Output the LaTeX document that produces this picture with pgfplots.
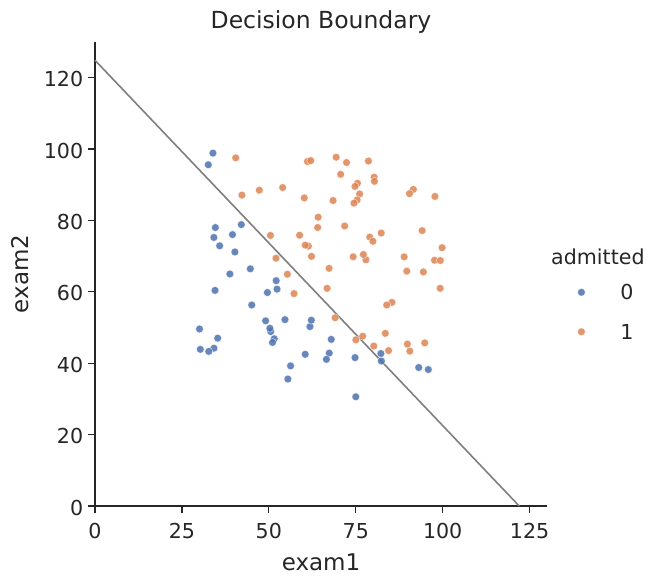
\documentclass[border=0pt]{standalone}
\usepackage{pgfplots}
\pgfplotsset{compat=1.18}
\usepackage{fontspec}
\setmainfont{DejaVu Sans}
\definecolor{dblue}{HTML}{4C72B0}
\definecolor{dorange}{HTML}{DD8452}
\definecolor{txt}{HTML}{262626}
\definecolor{lgray}{HTML}{7F7F7F}
\begin{document}
\begin{tikzpicture}
\useasboundingbox (-95bp,-75bp) rectangle (564bp,506bp);
\begin{axis}[
  at={(0,0)}, anchor=south west,
  scale only axis, width=452bp, height=464bp,
  xmin=0, xmax=130, ymin=0, ymax=130,
  axis lines=left, axis line style={-, draw=txt, line width=1.25bp},
  tick align=outside, major tick length=7bp,
  tick style={draw=txt, line width=1.25bp},
  xtick={0,25,...,125}, ytick={0,20,...,120},
  minor tick num=0,
  /pgf/number format/assume math mode=true,
  tick label style={font=\fontsize{20.6bp}{24bp}\selectfont, text=txt, inner sep=0pt},
  xticklabel style={anchor=base, yshift=-25bp},
  yticklabel style={anchor=east, xshift=-4.6bp, yshift=-1.5bp},
  xlabel={exam1}, ylabel={exam2},
  label style={font=\fontsize{23bp}{27bp}\selectfont, text=txt, inner sep=0pt},
  xlabel style={at={(axis description cs:0.5,-0.138)}, anchor=base},
  ylabel style={at={(axis description cs:-0.148,0.5)}, anchor=base},
  title={Decision Boundary},
  title style={font=\fontsize{23.5bp}{28bp}\selectfont, text=txt, inner sep=0pt,
    at={(axis description cs:0.5,1.0172)}, anchor=base},
  legend style={draw=none, fill=none, at={(axis description cs:1.0675,0.4774)},
    anchor=north west, inner sep=0pt, outer sep=0pt,
    font=\fontsize{20.6bp}{24bp}\selectfont, text=txt,
    column sep=0pt, row sep=23bp,
    nodes={inner sep=0pt, anchor=base west}},
  legend cell align=left,
  legend image code/.code={%
    \path[draw=none] (0bp,0bp) -- (39bp,0bp);
    \draw[#1] plot coordinates {(0bp,7.5bp)};},
  clip=false,
]
\addplot[only marks, mark=*, mark size=3.9bp,
  mark options={fill=dblue, fill opacity=0.85, draw=white, draw opacity=0.7, line width=0.5bp}]
coordinates {
(34.62,78.02) (30.29,43.89) (35.85,72.90) (45.08,56.32) (95.86,38.23)
(75.01,30.60) (39.54,76.04) (67.95,46.68) (67.37,42.84) (50.53,48.86)
(34.21,44.21) (93.11,38.80) (61.83,50.26) (38.79,65.00) (52.11,63.13)
(40.24,71.17) (54.64,52.21) (33.92,98.87) (74.79,41.57) (34.18,75.24)
(51.55,46.86) (82.37,40.62) (51.05,45.82) (62.22,52.06) (34.52,60.40)
(50.29,49.80) (49.59,59.81) (32.58,95.60) (35.29,47.02) (56.25,39.26)
(30.06,49.59) (44.67,66.45) (66.56,41.09) (49.07,51.88) (32.72,43.31)
(60.46,42.51) (82.23,42.72) (42.08,78.84) (52.35,60.77) (55.48,35.57)
};
\addlegendentry{0}
\addplot[only marks, mark=*, mark size=3.9bp,
  mark options={fill=dorange, fill opacity=0.85, draw=white, draw opacity=0.7, line width=0.5bp}]
coordinates {
(60.18,86.31) (79.03,75.34) (61.11,96.51) (75.02,46.55) (76.10,87.42)
(84.43,43.53) (82.31,76.48) (69.36,97.72) (53.97,89.21) (69.07,52.74)
(70.66,92.93) (76.98,47.58) (89.68,65.80) (77.92,68.97) (62.27,69.95)
(80.19,44.82) (61.38,72.81) (85.40,57.05) (52.05,69.43) (64.18,80.91)
(83.90,56.31) (94.44,65.57) (77.19,70.46) (97.77,86.73) (62.07,96.77)
(91.56,88.70) (79.94,74.16) (99.27,61.00) (90.55,43.39) (97.65,68.86)
(74.25,69.82) (71.80,78.45) (75.40,85.76) (40.46,97.54) (80.28,92.12)
(66.75,60.99) (64.04,78.03) (72.35,96.23) (60.46,73.09) (58.84,75.86)
(99.83,72.37) (47.26,88.48) (50.46,75.81) (88.91,69.80) (94.83,45.69)
(67.32,66.59) (57.24,59.51) (80.37,90.96) (68.47,85.59) (75.48,90.42)
(78.64,96.65) (94.09,77.16) (90.45,87.51) (74.49,84.85) (89.85,45.36)
(83.49,48.38) (42.26,87.10) (99.32,68.78) (55.34,64.93) (74.78,89.53)
};
\addlegendentry{1}
\addplot[forget plot, lgray, line width=1.6bp] coordinates {(0,124.88) (122.0,0)};
\node[anchor=base west, inner sep=0pt, font=\fontsize{20.6bp}{24bp}\selectfont, text=txt]
  at (axis description cs:1.0088,0.5194) {admitted};
\end{axis}
\end{tikzpicture}
\end{document}
